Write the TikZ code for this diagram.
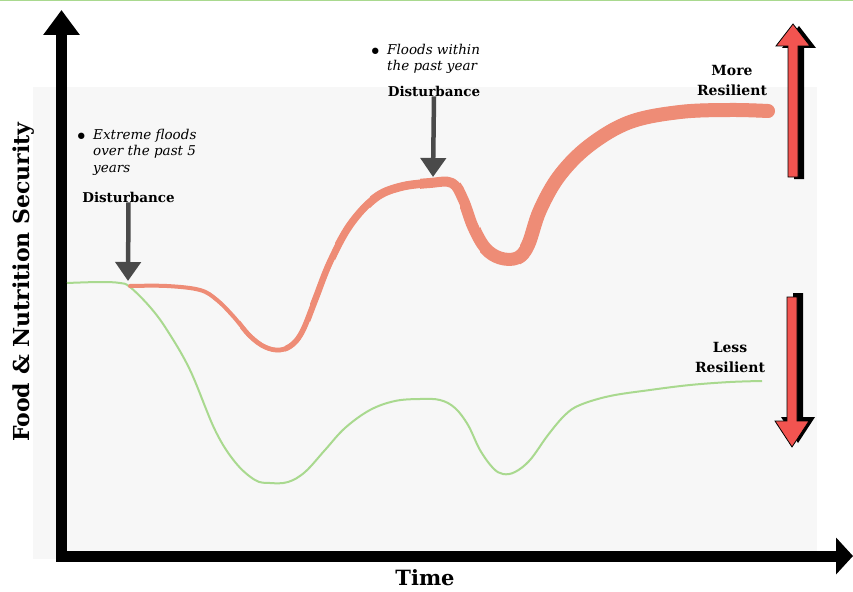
\documentclass[tikz,border=0pt]{standalone}
\usepackage{fontspec}
\setmainfont{DejaVu Serif}
\usepackage{tikz}
\usetikzlibrary{arrows.meta,positioning}

\definecolor{hgrund}{HTML}{F7F7F7}
\definecolor{gruen}{HTML}{A9D98F}
\definecolor{lachs}{HTML}{EE8C76}
\definecolor{pfeilrot}{HTML}{F25450}
\definecolor{dunkelgrau}{HTML}{4A4A4A}

\newcommand{\orangepfad}{plot[smooth, tension=0.6] coordinates {(130,286) (167,286) (200,290) (217,300) (233,316) (250,336) (265,347) (280,350) (293,344) (303,330) (315,300) (330,262) (350,225) (375,198) (400,187) (430,183) (452,183) (463,200) (473,227) (485,248) (500,258) (517,258) (528,245) (540,210) (560,175) (590,145) (630,122) (680,112) (730,110) (768,111)}}

\begin{document}
\begin{tikzpicture}[x=1pt,y=-1pt]
			\tikzstyle{every node}=[inner sep=0pt]
			\tikzstyle{achse}=[line width=11pt]
			\tikzstyle{stoerung}=[font=\fontsize{13.5}{16}\selectfont\bfseries]
			\tikzstyle{notiz}=[font=\fontsize{13.5}{16.5}\selectfont\itshape, align=left]
			\tikzstyle{punkt}=[font=\fontsize{22}{22}\selectfont]
			\tikzstyle{resil}=[font=\fontsize{14}{20}\selectfont\bfseries, align=center]
			\tikzstyle{stoerpfeil}=[line width=4.5pt, dunkelgrau, -{Triangle[width=25pt,length=19pt]}]
			
			\useasboundingbox (0,0) rectangle (853,591);
			\fill[white] (0,0) rectangle (853,591);
			
			%Hintergrund und Rand oben
			\fill[hgrund] (33,87) rectangle (817,559);
			\draw[gruen, line width=1.5pt] (0,0.75) -- (853,0.75);
			
			%Achsen
			\draw[achse, -{Triangle[width=35pt,length=25pt]}] (61.5,561) -- (61.5,10);
			\draw[achse, -{Triangle[width=36pt,length=17pt]}] (56,556) -- (853,556);
			\node[rotate=90, font=\fontsize{22}{24}\selectfont\bfseries] (ylab) at (24,282) {Food \& Nutrition Security};
			\node[font=\fontsize{21}{24}\selectfont\bfseries] (xlab) at (425,578) {Time};
			
			%weniger resilient (gruen)
			\draw[gruen, line width=2pt] plot[smooth, tension=0.6] coordinates {(67,283) (100,282) (120,283) (130,287) (150,307) (167,330) (190,370) (215,430) (235,462) (255,480) (270,483) (288,482) (305,472) (325,450) (345,428) (370,410) (395,401) (420,399) (440,400) (455,408) (468,425) (480,450) (493,468) (503,474) (515,472) (530,460) (548,435) (565,415) (580,405) (610,396) (650,390) (690,385) (730,382) (762,381)};
			
			%mehr resilient (orange), Linie wird nach rechts dicker
			\foreach \xa/\lw in {0/4, 240/4.7, 285/5.5, 310/6.5, 335/7.5, 370/8.5, 420/10, 460/11.5, 480/13, 520/14}{
				\begin{scope}
					\clip (\xa,0) rectangle (853,591);
					\draw[lachs, line cap=round, line join=round, line width=\lw pt] \orangepfad;
				\end{scope}
			}
			
			%Stoerungen
			\coordinate (treffer1) at (128,281);
			\coordinate (treffer2) at (433,177);
			\node[stoerung] (stoer1) at (128.5,197) {Disturbance};
			\node[stoerung] (stoer2) at (434,91) {Disturbance};
			\draw[stoerpfeil] (stoer1.south) -- (treffer1);
			\draw[stoerpfeil] (stoer2.south) -- (treffer2);
			
			\node[notiz, anchor=north west] (notiz1) at (93,129) {Extreme floods\\over the past 5\\years};
			\node[punkt, anchor=east] (punkt1) at (88,139) {\textbullet};
			\node[notiz, anchor=north west] (notiz2) at (387,44) {Floods within\\the past year};
			\node[punkt, anchor=east] (punkt2) at (382,54) {\textbullet};
			
			%Resilienz
			\node[resil] (mehr) at (732,80) {More\\Resilient};
			\node[resil] (weniger) at (730,357) {Less\\Resilient};
			
			%rote Pfeile mit Schatten
			\fill[black, shift={(6,2)}] (788,177) -- (788,46) -- (776,46) -- (793,24) -- (810,46) -- (798,46) -- (798,177) -- cycle;
			\filldraw[pfeilrot, draw=black, line width=0.8pt] (788,177) -- (788,46) -- (776,46) -- (793,24) -- (810,46) -- (798,46) -- (798,177) -- cycle;
			\fill[black, shift={(6,-4)}] (787,297) -- (787,421) -- (775,421) -- (792,447) -- (809,421) -- (797,421) -- (797,297) -- cycle;
			\filldraw[pfeilrot, draw=black, line width=0.8pt] (787,297) -- (787,421) -- (775,421) -- (792,447) -- (809,421) -- (797,421) -- (797,297) -- cycle;
\end{tikzpicture}
\end{document}
